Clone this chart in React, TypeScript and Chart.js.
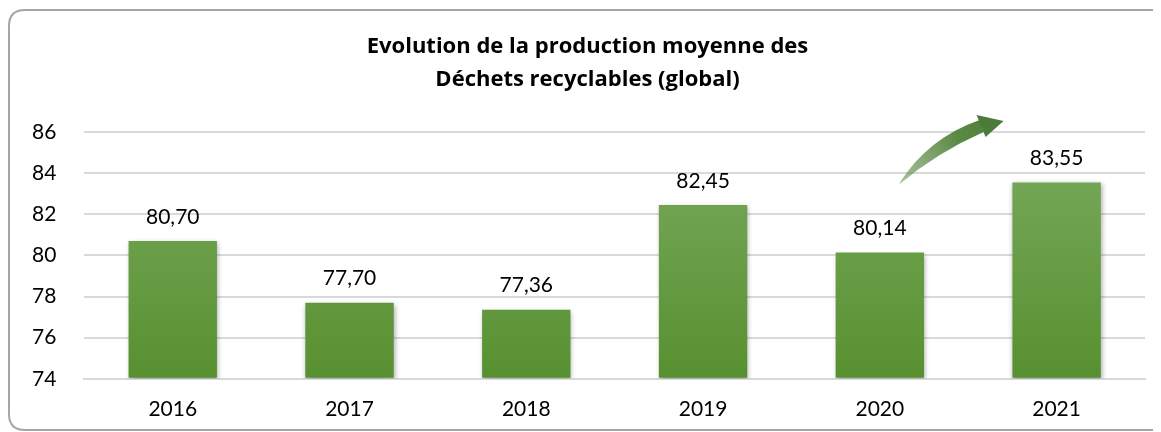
import React, { useEffect, useRef } from "react";
import { Chart, registerables } from "chart.js";

Chart.register(...registerables);

const categories = ["2016", "2017", "2018", "2019", "2020", "2021"];
const values = [80.7, 77.7, 77.36, 82.45, 80.14, 83.55];
const valueLabels = ["80,70", "77,70", "77,36", "82,45", "80,14", "83,55"];
const titleLines = ["Evolution de la production moyenne des", "Déchets recyclables (global)"];
const yMin = 74;
const yMax = 86;
const yStep = 2;

const FONT = "Lato, 'Open Sans', sans-serif";
const TITLE_FONT = "'Open Sans', Lato, sans-serif";

const framePlugin = {
  id: "frame",
  beforeDraw(chart: any) {
    const { ctx, width, height } = chart;
    ctx.save();
    ctx.fillStyle = "#ffffff";
    ctx.fillRect(0, 0, width, height);
    const r = 16;
    const x = 1, y = 2, w = width + 40, h = height - 4;
    ctx.beginPath();
    ctx.moveTo(x + w, y);
    ctx.lineTo(x + r, y);
    ctx.quadraticCurveTo(x, y, x, y + r);
    ctx.lineTo(x, y + h - r);
    ctx.quadraticCurveTo(x, y + h, x + r, y + h);
    ctx.lineTo(x + w, y + h);
    ctx.strokeStyle = "#a6a6a6";
    ctx.lineWidth = 2;
    ctx.stroke();
    ctx.restore();
  },
};

const titlePlugin = {
  id: "centeredTitle",
  afterDraw(chart: any) {
    const { ctx, width } = chart;
    ctx.save();
    ctx.font = `bold 22px ${TITLE_FONT}`;
    ctx.fillStyle = "#000000";
    ctx.textAlign = "center";
    ctx.textBaseline = "middle";
    titleLines.forEach((line, i) => {
      ctx.fillText(line, width / 2 + 3, 39 + i * 33);
    });
    ctx.restore();
  },
};

const shadowPlugin = {
  id: "barShadow",
  beforeDatasetDraw(chart: any) {
    const { ctx } = chart;
    ctx.save();
    ctx.shadowColor = "rgba(0,0,0,0.35)";
    ctx.shadowBlur = 5;
    ctx.shadowOffsetX = 1;
    ctx.shadowOffsetY = 2;
  },
  afterDatasetDraw(chart: any) {
    chart.ctx.restore();
  },
};

const labelsPlugin = {
  id: "valueLabels",
  afterDatasetsDraw(chart: any) {
    const { ctx } = chart;
    const meta = chart.getDatasetMeta(0);
    ctx.save();
    ctx.font = `21px ${FONT}`;
    ctx.fillStyle = "#000000";
    ctx.textAlign = "center";
    ctx.textBaseline = "middle";
    meta.data.forEach((bar: any, i: number) => {
      ctx.fillText(valueLabels[i], bar.x, bar.y - 24);
    });
    ctx.restore();
  },
};

const arrowPlugin = {
  id: "arrow",
  afterDatasetsDraw(chart: any) {
    const { ctx, scales } = chart;
    const xs = scales.x;
    const ys = scales.y;
    const base = xs.getPixelForValue(4);
    const step = xs.getPixelForValue(5) - base;
    const x0 = base + step * 0.11;
    const y0 = ys.getPixelForValue(83.5);
    const x1 = base + step * 0.7;
    const y1 = ys.getPixelForValue(86.54);
    const cx = base + step * 0.27;
    const cy = ys.getPixelForValue(85.7);
    ctx.save();
    const grad = ctx.createLinearGradient(x0, y0, x1, y1);
    grad.addColorStop(0, "rgba(110,150,90,0.6)");
    grad.addColorStop(0.6, "#5a8a44");
    grad.addColorStop(1, "#4b7b38");
    ctx.beginPath();
    ctx.moveTo(x0, y0);
    ctx.quadraticCurveTo(cx, cy, x1 - 24, y1 - 1);
    ctx.lineTo(x1 - 20, y1 + 11);
    ctx.quadraticCurveTo(cx + 10, cy + 14, x0 + 1, y0);
    ctx.closePath();
    ctx.fillStyle = grad;
    ctx.fill();
    ctx.beginPath();
    ctx.moveTo(x1, y1);
    ctx.lineTo(x1 - 27, y1 - 6);
    ctx.lineTo(x1 - 18, y1 + 16);
    ctx.closePath();
    ctx.fillStyle = "#4b7b38";
    ctx.fill();
    ctx.restore();
  },
};

export default function App() {
  const ref = useRef<HTMLCanvasElement | null>(null);
  useEffect(() => {
    if (!ref.current) return;
    const chart = new Chart(ref.current, {
      type: "bar",
      data: {
        labels: categories,
        datasets: [
          {
            data: values,
            backgroundColor: (c: any) => {
              const area = c.chart.chartArea;
              if (!area) return "#669d44";
              const g = c.chart.ctx.createLinearGradient(0, area.top, 0, area.bottom);
              g.addColorStop(0, "#7aab5e");
              g.addColorStop(1, "#579030");
              return g;
            },
            borderWidth: 0,
            categoryPercentage: 0.5,
            barPercentage: 1,
            base: yMin,
          },
        ],
      },
      options: {
        animation: false,
        responsive: false,
        maintainAspectRatio: false,
        layout: { padding: { left: -4, right: 16, top: 124, bottom: -8 } },
        plugins: {
          legend: { display: false },
          tooltip: { enabled: false },
          title: { display: false },
        },
        scales: {
          x: {
            grid: { display: false, drawTicks: false },
            border: { display: true, color: "#d9d9d9", width: 2 },
            ticks: { color: "#000000", font: { family: FONT, size: 21 }, padding: 18 },
          },
          y: {
            min: yMin,
            max: yMax,
            grid: { color: "#d9d9d9", lineWidth: 2, drawTicks: false },
            border: { display: false },
            ticks: {
              stepSize: yStep,
              color: "#000000",
              font: { family: FONT, size: 21 },
              padding: 28,
            },
          },
        },
      },
      plugins: [framePlugin, shadowPlugin, labelsPlugin, arrowPlugin, titlePlugin],
    });
    return () => chart.destroy();
  }, []);
  return (
    <div style={{ width: 1153, height: 424 }}>
      <canvas ref={ref} width={1153} height={424} style={{ display: "block" }} />
    </div>
  );
}
